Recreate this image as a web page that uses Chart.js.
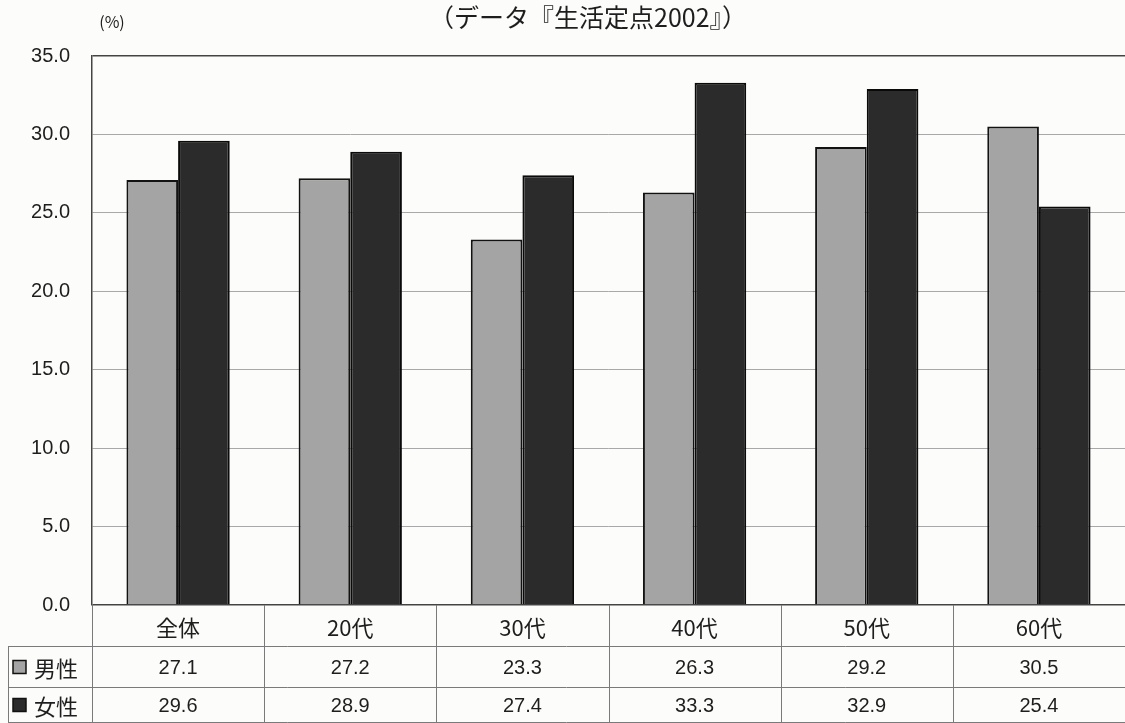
<!DOCTYPE html>
<html>
<head>
<meta charset="utf-8">
<script src="https://cdn.jsdelivr.net/npm/chart.js@4"></script>
<style>
  html, body { margin: 0; padding: 0; background: #fcfcfb; }
  #wrap { width: 1125px; height: 723px; position: relative; }
</style>
</head>
<body>
<div id="wrap"><canvas id="ratioChart" width="1125" height="723"></canvas></div>
<script>
// 年代別・男女別の比率 (%)
const categories = ['全体', '20代', '30代', '40代', '50代', '60代'];
const seriesNames = ['男性', '女性'];
const maleValues = [27.1, 27.2, 23.3, 26.3, 29.2, 30.5];
const femaleValues = [29.6, 28.9, 27.4, 33.3, 32.9, 25.4];
const yTicks = [0, 5, 10, 15, 20, 25, 30, 35];

const titleText = '（データ『生活定点2002』）';
const unitText = '(%)';

const maleFill = '#a4a4a4';
const femaleFill = '#2b2b2b';
const edge = '#121212';
const ink = '#1e1e1e';
const jpFont = '"Noto Sans CJK JP", sans-serif';
const numFont = '"Liberation Sans", Arial, sans-serif';

// Title, unit label and the data table under the plot
const tablePlugin = {
  id: 'dataTable',
  afterDraw(chart){
    const ctx = chart.ctx;
    const area = chart.chartArea;
    const x = chart.scales.x;
    const rowTop = area.bottom;
    const row1 = rowTop + 41;
    const row2 = row1 + 41;
    const rowEnd = 722;
    const leftEdge = 8;

    ctx.save();
    ctx.fillStyle = ink;
    ctx.textBaseline = 'middle';
    ctx.textAlign = 'center';
    ctx.font = '25px ' + jpFont;
    ctx.fillText(titleText, 588, 17);
    ctx.font = '16px ' + jpFont;
    ctx.fillText(unitText, 112, 22);

    // grid of the table
    ctx.strokeStyle = '#7a7a7a';
    ctx.lineWidth = 1;
    ctx.beginPath();
    [row1, row2, rowEnd].forEach(y=>{
      ctx.moveTo(leftEdge, y + 0.5);
      ctx.lineTo(area.right, y + 0.5);
    });
    ctx.moveTo(leftEdge + 0.5, row1);
    ctx.lineTo(leftEdge + 0.5, rowEnd);
    const half = (x.getPixelForValue(1) - x.getPixelForValue(0)) / 2;
    for(let i = 0; i <= categories.length; i++){
      const bx = Math.round(x.getPixelForValue(i) - half) + 0.5;
      ctx.moveTo(bx, rowTop);
      ctx.lineTo(bx, rowEnd);
    }
    ctx.stroke();

    // category header and values
    const rows = [maleValues, femaleValues];
    categories.forEach((c, i)=>{
      const cx = x.getPixelForValue(i);
      ctx.font = '22px ' + jpFont;
      ctx.fillText(c, cx, (rowTop + row1) / 2 + 2);
      ctx.font = '20px ' + numFont;
      ctx.fillText(rows[0][i].toFixed(1), cx, (row1 + row2) / 2 + 2);
      ctx.fillText(rows[1][i].toFixed(1), cx, (row2 + rowEnd) / 2 + 2);
    });

    // row labels with legend keys
    const fills = [maleFill, femaleFill];
    const mids = [(row1 + row2) / 2, (row2 + rowEnd) / 2];
    seriesNames.forEach((name, k)=>{
      const my = mids[k] + 1;
      ctx.fillStyle = fills[k];
      ctx.fillRect(13, my - 7, 13, 13);
      ctx.strokeStyle = edge;
      ctx.lineWidth = 1.5;
      ctx.strokeRect(13, my - 7, 13, 13);
      ctx.fillStyle = ink;
      ctx.textAlign = 'left';
      ctx.font = '22px ' + jpFont;
      ctx.fillText(name, 34, my + 1);
      ctx.textAlign = 'center';
    });
    ctx.restore();
  }
};

const bgPlugin = {
  id: 'pageBg',
  beforeDraw(chart){
    const ctx = chart.ctx;
    ctx.save();
    ctx.fillStyle = '#fcfcfb';
    ctx.fillRect(0, 0, chart.width, chart.height);
    ctx.restore();
  }
};

new Chart(document.getElementById('ratioChart'), {
  type: 'bar',
  data: {
    labels: categories,
    datasets: [
      {
        label: seriesNames[0],
        data: maleValues,
        backgroundColor: maleFill,
        borderColor: edge,
        borderWidth: 2,
        categoryPercentage: 0.6,
        barPercentage: 1.0
      },
      {
        label: seriesNames[1],
        data: femaleValues,
        backgroundColor: femaleFill,
        borderColor: '#0a0a0a',
        borderWidth: 2,
        categoryPercentage: 0.6,
        barPercentage: 1.0
      }
    ]
  },
  options: {
    responsive: false,
    animation: false,
    devicePixelRatio: 1,
    layout: { padding: { top: 56, bottom: 118, left: 0, right: 0 } },
    plugins: {
      legend: { display: false },
      title: { display: false },
      tooltip: { enabled: false }
    },
    scales: {
      x: {
        display: false,
        grid: { display: false }
      },
      y: {
        min: 0,
        max: 35,
        afterFit(scale){ scale.width = 92; },
        afterBuildTicks(scale){ scale.ticks = yTicks.map(v=>({ value: v })); },
        border: { display: true, color: '#444', width: 1.5 },
        grid: {
          drawTicks: false,
          color: (c)=> (c.tick && (c.tick.value === 35 || c.tick.value === 0)) ? '#444' : '#a8a8a8',
          lineWidth: (c)=> (c.tick && (c.tick.value === 35 || c.tick.value === 0)) ? 1.5 : 1
        },
        ticks: {
          padding: 22,
          color: ink,
          font: { family: numFont, size: 20 },
          callback: (v)=> Number(v).toFixed(1)
        }
      }
    }
  },
  plugins: [bgPlugin, tablePlugin]
});
</script>
</body>
</html>
